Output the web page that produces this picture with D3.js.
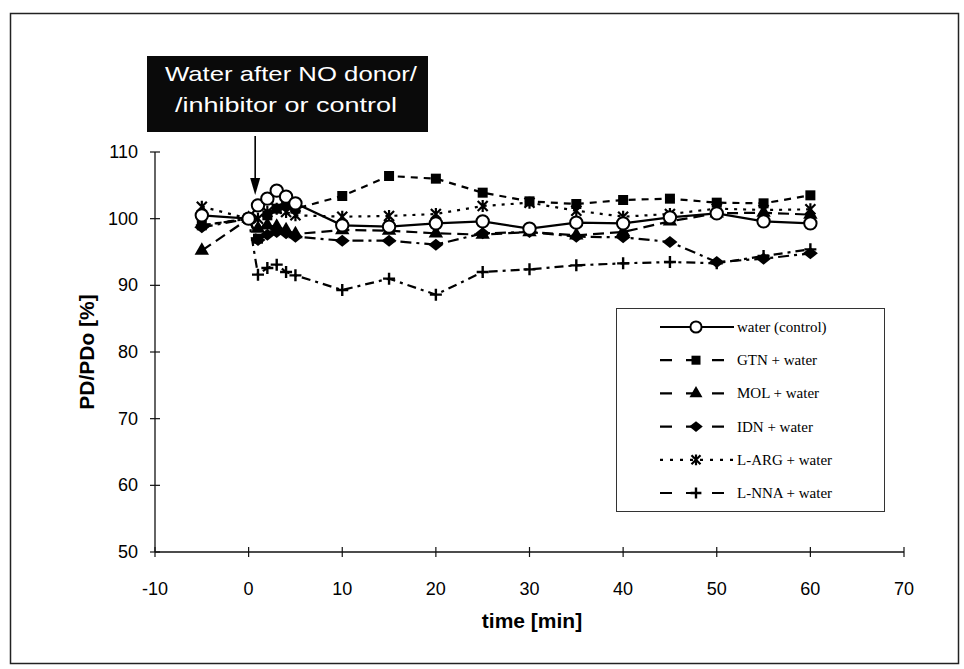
<!DOCTYPE html>
<html>
<head>
<meta charset="utf-8">
<script src="https://cdn.jsdelivr.net/npm/d3@7"></script>
<style>
  body { margin: 0; background: #fff; }
  svg { display: block; }
</style>
</head>
<body>
<svg width="964" height="669"></svg>
<script>
// time points (min)
var times = [-5, 0, 1, 2, 3, 4, 5, 10, 15, 20, 25, 30, 35, 40, 45, 50, 55, 60];

// PD/PDo [%] per group
var water = [100.5, 100, 102, 103, 104.2, 103.3, 102.3, 99, 98.8, 99.3, 99.6, 98.5, 99.4, 99.3, 100.2, 100.8, 99.6, 99.3];
var gtn   = [99, 100, 97, 100.5, 101.5, 102, 101.5, 103.4, 106.4, 106, 103.9, 102.6, 102.2, 102.8, 103, 102.4, 102.3, 103.5];
var mol   = [95.2, 100, 98.5, 99, 98.8, 98.3, 97.7, 98.3, 98.2, 97.8, 97.6, 98, 97.5, 98, 99.6, 100.8, 100.9, 100.6];
var idn   = [98.7, 100, 96.8, 97.6, 98, 97.8, 97.3, 96.7, 96.7, 96.1, 97.8, 98, 97.3, 97.2, 96.5, 93.5, 94, 94.8];
var larg  = [101.8, 100, 100, 101, 101.5, 101, 100.5, 100.3, 100.4, 100.7, 101.9, 102.4, 101.2, 100.3, 100.7, 101.5, 101.3, 101.4];
var lnna  = [99, 100, 91.6, 92.6, 93.1, 92, 91.5, 89.3, 91, 88.6, 92, 92.4, 93, 93.3, 93.5, 93.3, 94.4, 95.4];

var xTicks = [-10, 0, 10, 20, 30, 40, 50, 60, 70];
var yTicks = [50, 60, 70, 80, 90, 100, 110];

var series = [
  { name: "water (control)", values: water, dash: null, marker: "circle" },
  { name: "GTN + water", values: gtn, dash: "7,6", marker: "square" },
  { name: "MOL + water", values: mol, dash: "11,6", marker: "triangle" },
  { name: "IDN + water", values: idn, dash: "11,5,3,5", marker: "diamond" },
  { name: "L-ARG + water", values: larg, dash: "3,6", marker: "cross" },
  { name: "L-NNA + water", values: lnna, dash: "9,5,3,5", marker: "plus" }
];

var svg = d3.select("svg");

// outer frame of the scanned figure
svg.append("rect")
  .attr("x", 10.5).attr("y", 13.5)
  .attr("width", 948).attr("height", 650)
  .attr("fill", "none").attr("stroke", "#222").attr("stroke-width", 1.5);

var x = d3.scaleLinear().domain([-10, 70]).range([155, 904]);
var y = d3.scaleLinear().domain([50, 110]).range([552, 152]);

// axes (cross ticks)
var g = svg.append("g");
g.append("line")
  .attr("x1", x(-10)).attr("x2", x(70))
  .attr("y1", y(50)).attr("y2", y(50))
  .attr("stroke", "#111").attr("stroke-width", 1.3);
g.append("line")
  .attr("x1", x(-10)).attr("x2", x(-10))
  .attr("y1", y(50)).attr("y2", y(110))
  .attr("stroke", "#111").attr("stroke-width", 1.3);

g.selectAll(".xt").data(xTicks).enter().append("line")
  .attr("x1", d => x(d)).attr("x2", d => x(d))
  .attr("y1", y(50) - 5).attr("y2", y(50) + 5)
  .attr("stroke", "#111").attr("stroke-width", 1.2);
g.selectAll(".yt").data(yTicks).enter().append("line")
  .attr("x1", x(-10) - 5).attr("x2", x(-10) + 5)
  .attr("y1", d => y(d)).attr("y2", d => y(d))
  .attr("stroke", "#111").attr("stroke-width", 1.2);

g.selectAll(".xl").data(xTicks).enter().append("text")
  .attr("x", d => x(d)).attr("y", y(50) + 43)
  .attr("text-anchor", "middle")
  .attr("font-family", "Liberation Sans, Arial, sans-serif")
  .attr("font-size", 18)
  .text(d => d);
g.selectAll(".yl").data(yTicks).enter().append("text")
  .attr("x", x(-10) - 17).attr("y", d => y(d) + 6)
  .attr("text-anchor", "end")
  .attr("font-family", "Liberation Sans, Arial, sans-serif")
  .attr("font-size", 18)
  .text(d => d);

svg.append("text")
  .attr("x", 532).attr("y", 628)
  .attr("text-anchor", "middle")
  .attr("font-family", "Liberation Sans, Arial, sans-serif")
  .attr("font-size", 21).attr("font-weight", "bold")
  .text("time [min]");
svg.append("text")
  .attr("transform", "translate(94,352) rotate(-90)")
  .attr("text-anchor", "middle")
  .attr("font-family", "Liberation Sans, Arial, sans-serif")
  .attr("font-size", 21).attr("font-weight", "bold")
  .text("PD/PDo [%]");

// markers
function drawMarker(sel, type, size) {
  var s = size;
  if (type === "circle") {
    sel.append("circle").attr("r", s * 0.62)
      .attr("fill", "#fff").attr("stroke", "#000").attr("stroke-width", 2);
  } else if (type === "square") {
    sel.append("rect").attr("x", -s / 2).attr("y", -s / 2)
      .attr("width", s).attr("height", s).attr("fill", "#000");
  } else if (type === "triangle") {
    sel.append("path").attr("d", d3.symbol(d3.symbolTriangle, s * s * 0.9)).attr("fill", "#000");
  } else if (type === "diamond") {
    sel.append("path").attr("d", "M0," + (-s * 0.6) + "L" + (s * 0.75) + ",0L0," + (s * 0.6) + "L" + (-s * 0.75) + ",0Z").attr("fill", "#000");
  } else if (type === "cross") {
    sel.append("path").attr("d", "M" + (-s / 2) + "," + (-s / 2) + "L" + (s / 2) + "," + (s / 2) + "M" + (s / 2) + "," + (-s / 2) + "L" + (-s / 2) + "," + (s / 2) + "M0," + (-s * 0.6) + "L0," + (s * 0.6))
      .attr("stroke", "#000").attr("stroke-width", 2.2).attr("fill", "none");
  } else if (type === "plus") {
    sel.append("path").attr("d", "M" + (-s * 0.6) + ",0L" + (s * 0.6) + ",0M0," + (-s * 0.6) + "L0," + (s * 0.6))
      .attr("stroke", "#000").attr("stroke-width", 2.4).attr("fill", "none");
  }
}

var line = d3.line()
  .x((d, i) => x(times[i]))
  .y(d => y(d));

// draw back to front so the control curve sits on top
var order = series.slice().reverse();
order.forEach(function (s) {
  svg.append("path")
    .datum(s.values)
    .attr("d", line)
    .attr("fill", "none")
    .attr("stroke", "#000")
    .attr("stroke-width", 2.2)
    .attr("stroke-dasharray", s.dash);
});
order.forEach(function (s) {
  svg.append("g").selectAll("g")
    .data(s.values)
    .enter().append("g")
    .attr("transform", (d, i) => "translate(" + x(times[i]) + "," + y(d) + ")")
    .each(function () { drawMarker(d3.select(this), s.marker, 10); });
});

// annotation box + arrow
svg.append("rect")
  .attr("x", 147).attr("y", 56).attr("width", 281).attr("height", 76)
  .attr("fill", "#0a0a0a");
svg.append("text")
  .attr("x", 165).attr("y", 81)
  .attr("fill", "#fff")
  .attr("font-family", "Liberation Sans, Arial, sans-serif")
  .attr("font-size", 21)
  .attr("textLength", 252).attr("lengthAdjust", "spacingAndGlyphs")
  .text("Water after NO donor/");
svg.append("text")
  .attr("x", 175).attr("y", 112)
  .attr("fill", "#fff")
  .attr("font-family", "Liberation Sans, Arial, sans-serif")
  .attr("font-size", 21)
  .attr("textLength", 222).attr("lengthAdjust", "spacingAndGlyphs")
  .text("/inhibitor or control");

var ax = x(0.7);
svg.append("line")
  .attr("x1", ax).attr("x2", ax).attr("y1", 136).attr("y2", 184)
  .attr("stroke", "#000").attr("stroke-width", 1.6);
svg.append("path")
  .attr("d", "M" + (ax - 5) + ",178L" + ax + ",195L" + (ax + 5) + ",178Z")
  .attr("fill", "#000");

// legend
var lg = svg.append("g");
lg.append("rect")
  .attr("x", 616.5).attr("y", 308.5).attr("width", 268).attr("height", 203)
  .attr("fill", "#fff").attr("stroke", "#333").attr("stroke-width", 1);

series.forEach(function (s, i) {
  var ly = 327 + i * 33.2;
  lg.append("line")
    .attr("x1", 660).attr("x2", 734).attr("y1", ly).attr("y2", ly)
    .attr("stroke", "#000").attr("stroke-width", 2.2)
    .attr("stroke-dasharray", s.dash ? (s.marker === "cross" ? "3,7" : "12,14") : null);
  var m = lg.append("g").attr("transform", "translate(696," + ly + ")");
  drawMarker(m, s.marker, 9);
  lg.append("text")
    .attr("x", 737).attr("y", ly + 5)
    .attr("font-family", "Liberation Serif, Times New Roman, serif")
    .attr("font-size", 15)
    .text(s.name);
});
</script>
</body>
</html>
